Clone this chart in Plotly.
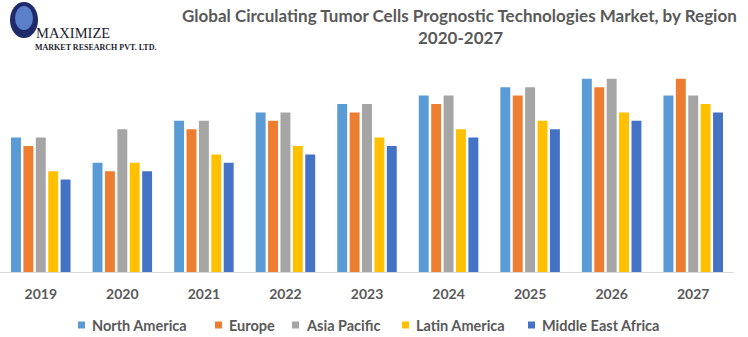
import plotly.graph_objects as go

years = ["2019", "2020", "2021", "2022", "2023", "2024", "2025", "2026", "2027"]
north_america = [16, 13, 18, 19, 20, 21, 22, 23, 21]
europe = [15, 12, 17, 18, 19, 20, 21, 22, 23]
asia_pacific = [16, 17, 18, 19, 20, 21, 22, 23, 21]
latin_america = [12, 13, 14, 15, 16, 17, 18, 19, 20]
middle_east_africa = [11, 12, 13, 14, 15, 16, 17, 18, 19]

series_names = ["North America", "Europe", "Asia Pacific", "Latin America", "Middle East Africa"]
series_values = [north_america, europe, asia_pacific, latin_america, middle_east_africa]
series_colors = ["#5B9BD5", "#ED7D31", "#A5A5A5", "#FFC000", "#4472C4"]

# legend key left edges (pixels) as in the reference layout
legend_key_x = [78, 215, 292, 402, 528]

W, H = 748, 337
ML, MR, MT, MB = 0, 14, 62, 65
PW = W - ML - MR
PH = H - MT - MB

def px_x(x):
    return (x - ML) / PW

def px_y(y):
    return 1 + (MT - y) / PH

fig = go.Figure()
for name, vals, color in zip(series_names, series_values, series_colors):
    fig.add_trace(go.Bar(x=years, y=vals, name=name, marker=dict(color=color, line=dict(width=0))))

TXT = "#595959"
fig.update_layout(
    width=W, height=H,
    margin=dict(l=ML, r=MR, t=MT, b=MB, pad=0),
    paper_bgcolor="white", plot_bgcolor="white",
    barmode="group", bargap=0.24, bargroupgap=0.2,
    showlegend=False,
    font=dict(family="Lato", color=TXT),
    xaxis=dict(showline=True, linecolor="#D9D9D9", linewidth=1, showgrid=False, ticks="",
               tickfont=dict(family="Lato", size=14, color=TXT, weight="bold"), zeroline=False,
               ticklabelstandoff=9),
    yaxis=dict(range=[0, 25], visible=False, showgrid=False),
)

# legend (keys + labels)
for name, color, kx in zip(series_names, series_colors, legend_key_x):
    fig.add_shape(type="rect", xref="paper", yref="paper",
                  x0=px_x(kx), x1=px_x(kx + 7), y0=px_y(328.5), y1=px_y(321.5),
                  fillcolor=color, line=dict(width=0))
    fig.add_annotation(text=name, xref="paper", yref="paper", x=px_x(kx + 12), y=px_y(325),
                       xanchor="left", yanchor="middle", showarrow=False,
                       font=dict(family="Lato", size=14.5, color=TXT, weight="bold"))

fig.add_annotation(text="Global Circulating Tumor Cells Prognostic Technologies Market, by Region",
                   xref="paper", yref="paper", x=px_x(459), y=px_y(16), xanchor="center", yanchor="middle",
                   showarrow=False, font=dict(family="Lato", size=17, color=TXT, weight="bold"))
fig.add_annotation(text="2020-2027",
                   xref="paper", yref="paper", x=px_x(460), y=px_y(38), xanchor="center", yanchor="middle",
                   showarrow=False, font=dict(family="Lato", size=17, color=TXT, weight="bold"))

# logo
fig.add_shape(type="circle", xref="paper", yref="paper",
              x0=px_x(10), x1=px_x(38), y0=px_y(38), y1=px_y(2),
              fillcolor="#1F2A6B", line=dict(width=0), layer="above")
fig.add_shape(type="circle", xref="paper", yref="paper",
              x0=px_x(15), x1=px_x(33), y0=px_y(30), y1=px_y(6),
              fillcolor="#5B7FC8", line=dict(width=0), layer="above")
fig.add_annotation(text="MAXIMIZE", xref="paper", yref="paper", x=px_x(34), y=px_y(33),
                   xanchor="left", yanchor="middle", showarrow=False,
                   font=dict(family="Liberation Serif", size=14.5, color="#1C1C2E"))
fig.add_annotation(text="MARKET RESEARCH PVT. LTD.", xref="paper", yref="paper", x=px_x(33), y=px_y(47.5),
                   xanchor="left", yanchor="middle", showarrow=False,
                   font=dict(family="Liberation Serif", size=8, color="#1C1C2E", weight="bold"))

fig.write_html("out.html")
